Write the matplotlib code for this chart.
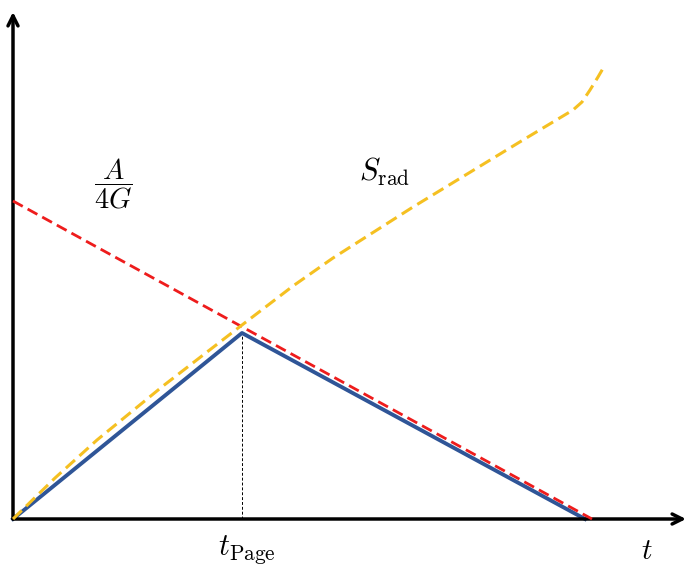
import matplotlib
matplotlib.use("Agg")
import matplotlib.pyplot as plt

plt.rcParams['mathtext.fontset'] = 'cm'

# --- data (t in arbitrary units, S in arbitrary units) ---
t_page = 2.29
t_bh = [0.0, 5.79]               # Bekenstein-Hawking entropy A/4G
s_bh = [3.18, 0.0]
t_page_curve = [0.0, t_page, 5.72]  # Page curve
s_page_curve = [0.0, 1.86, 0.0]
# radiation entropy
t_rad = [0.0, 0.42, 0.84, 1.50, 2.29, 2.80, 3.20, 4.00, 5.10, 5.60, 5.69, 5.77, 5.85, 5.92]
s_rad = [0.0, 0.41, 0.79, 1.33, 1.94, 2.33, 2.61, 3.12, 3.79, 4.09, 4.17, 4.29, 4.42, 4.54]

fig = plt.figure(figsize=(6.86, 5.65), dpi=100)
ax = fig.add_axes([0, 0, 1, 1])
ax.set_xlim(-0.13, 6.73)
ax.set_ylim(-0.46, 5.19)
ax.set_axis_off()

# axes with arrows
ax.annotate('', xy=(6.73, 0), xytext=(0, 0),
            arrowprops=dict(arrowstyle='->', color='black', lw=2.5,
                            shrinkA=0, shrinkB=0, mutation_scale=18))
ax.annotate('', xy=(0, 5.07), xytext=(0, 0),
            arrowprops=dict(arrowstyle='->', color='black', lw=2.5,
                            shrinkA=0, shrinkB=0, mutation_scale=18))

ax.plot(t_bh, s_bh, color='#ee1c1c', lw=2, ls=(0, (4, 2)), zorder=3)
ax.plot(t_rad, s_rad, color='#f5c021', lw=2.2, ls=(0, (4, 2)), zorder=3)
ax.plot(t_page_curve, s_page_curve, color='#2f5597', lw=2.8, zorder=2)
ax.plot([t_page, t_page], [0, s_page_curve[1]], color='black', lw=0.7,
        ls=(0, (3, 2)), zorder=1)

ax.text(1.0, 3.35, r'$\dfrac{A}{4G}$', fontsize=20.5, ha='center', va='center')
ax.text(3.72, 3.47, r'$S_{\rm rad}$', fontsize=22, ha='center', va='center')
ax.text(t_page + 0.05, -0.31, r'$t_{\rm Page}$', fontsize=22, ha='center', va='center')
ax.text(6.34, -0.32, r'$t$', fontsize=21, ha='center', va='center')

fig.savefig('out.png', dpi=100)
